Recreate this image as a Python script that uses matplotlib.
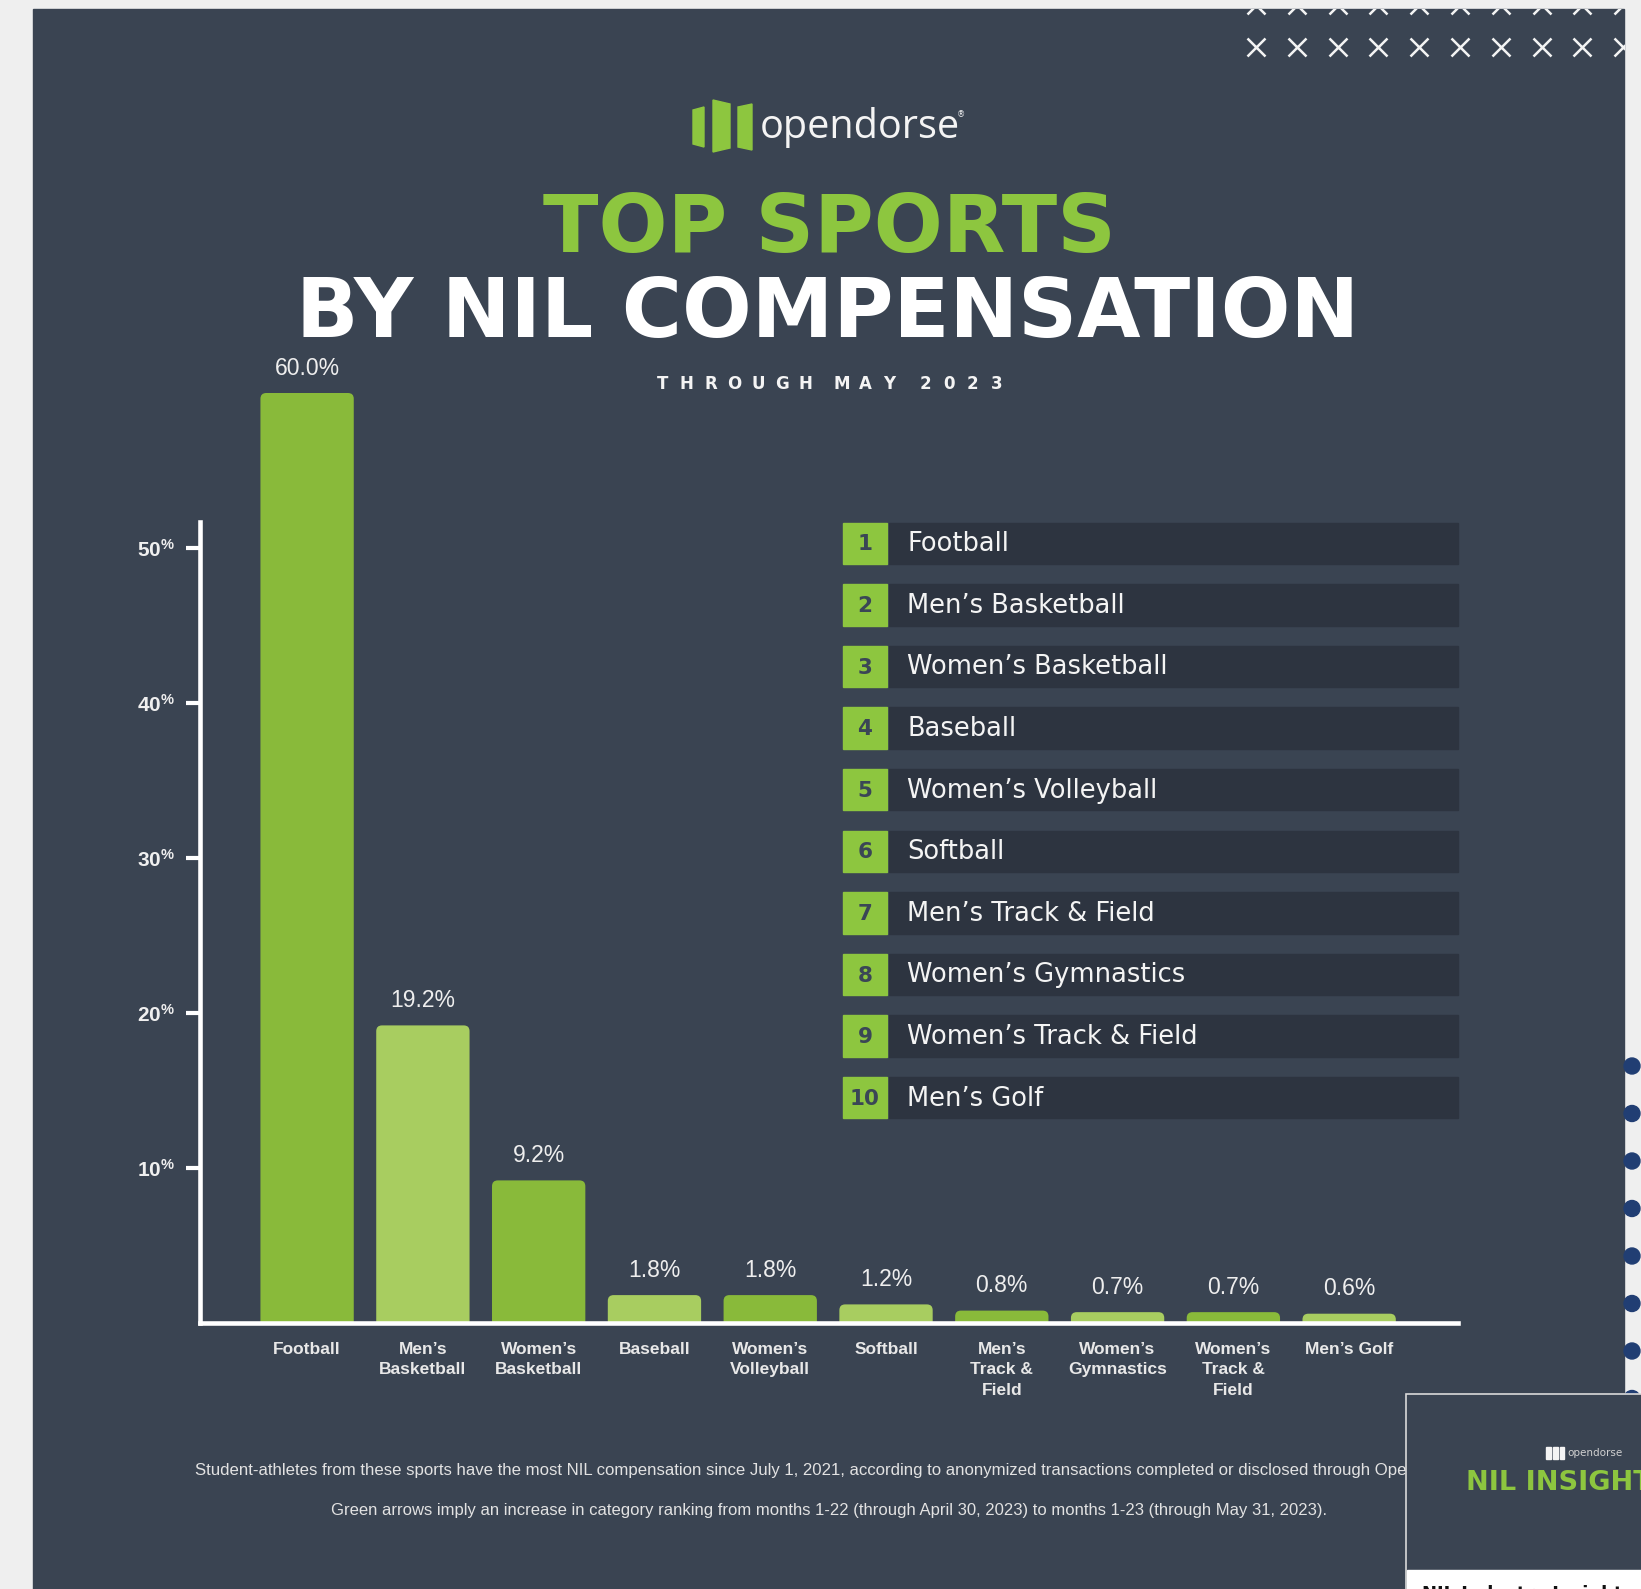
import matplotlib
matplotlib.use('Agg')
import matplotlib.pyplot as plt
from matplotlib.patches import Rectangle, Polygon, Circle, FancyBboxPatch

W, H = 1641, 1589

sports = ['Football', 'Men’s Basketball', 'Women’s Basketball', 'Baseball',
          'Women’s Volleyball', 'Softball', 'Men’s Track & Field',
          'Women’s Gymnastics', 'Women’s Track & Field', 'Men’s Golf']
bar_labels = ['Football', 'Men’s\nBasketball', 'Women’s\nBasketball', 'Baseball',
              'Women’s\nVolleyball', 'Softball', 'Men’s\nTrack &\nField',
              'Women’s\nGymnastics', 'Women’s\nTrack &\nField', 'Men’s Golf']
share = [60.0, 19.2, 9.2, 1.8, 1.8, 1.2, 0.8, 0.7, 0.7, 0.6]
yticks = [10, 20, 30, 40, 50]

footnote1 = ('Student-athletes from these sports have the most NIL compensation since July 1, 2021, '
             'according to anonymized transactions completed or disclosed through Opendorse.')
footnote2 = ('Green arrows imply an increase in category ranking from months 1-22 '
             '(through April 30, 2023) to months 1-23 (through May 31, 2023).')

PANEL = '#3a4452'
ROW = '#2d3440'
GREEN = '#8dc63f'
BAR_DARK = '#89ba3a'
BAR_LIGHT = '#a8cd60'
WHITE = '#f4f4f4'

plt.rcParams['mathtext.default'] = 'regular'

fig = plt.figure(figsize=(W / 100, H / 100), dpi=100, facecolor='#efefef')

# background layer in pixel coordinates
bg = fig.add_axes([0, 0, 1, 1])
bg.set_xlim(0, W)
bg.set_ylim(H, 0)
bg.axis('off')

panel = Rectangle((33, 9), 1624 - 33, H, color=PANEL, zorder=0)
bg.add_patch(panel)

# x marks top right
for yy in [5, 47]:
    xs = [1256 + 40.8 * i for i in range(10)]
    ln, = bg.plot(xs, [yy] * len(xs), ls='none', marker='x', ms=13, mew=1.8, color=WHITE, zorder=1)
    ln.set_clip_path(panel)

# blue dots on the right strip
for i in range(8):
    bg.add_patch(Circle((1632, 1066 + 47.5 * i), 8, color='#213e73', zorder=1))

# logo
bg.add_patch(Polygon([(693, 110), (704, 107), (704, 147), (693, 144)], color=GREEN, zorder=2))
bg.add_patch(Polygon([(713, 100), (730, 104), (730, 148), (713, 152)], color=GREEN, zorder=2))
bg.add_patch(Polygon([(738, 107), (752, 104), (752, 150), (738, 147)], color=GREEN, zorder=2))
bg.text(760, 128, 'opendorse', fontsize=28.5, family='Open Sans',
        color=WHITE, ha='left', va='center', zorder=2)
bg.text(961, 115, '®', fontsize=6, color=WHITE, ha='center', va='center')

# titles
bg.text(829, 252, 'TOP SPORTS', fontsize=58.5, fontweight='bold', family='DejaVu Sans',
        color=GREEN, ha='center', va='baseline')
bg.text(828, 337, 'BY NIL COMPENSATION', fontsize=59, fontweight='bold', family='DejaVu Sans',
        color='white', ha='center', va='baseline')

sub = ['THROUGH', 'MAY', '2023']
x0 = 663
step, gap = 23.8, 12
k = 0
for w, word in enumerate(sub):
    for ch in word:
        bg.text(x0 + k * step + w * gap, 389, ch, fontsize=12, fontweight='bold',
                color=WHITE, ha='center', va='baseline')
        k += 1

# ranking list
for i, name in enumerate(sports):
    yc = 543.3 + 61.6 * i
    bg.add_patch(Rectangle((842.7, yc - 20.7), 44, 41.4, color=GREEN, zorder=2))
    bg.add_patch(Rectangle((888.5, yc - 20.7), 1458 - 888.5, 41.4, color=ROW, zorder=2))
    bg.text(865, yc + 1, str(i + 1), fontsize=15.5, fontweight='bold', color='#3a4656',
            ha='center', va='center', zorder=3)
    bg.text(907, yc + 1, name, fontsize=18.5, color=WHITE, ha='left', va='center', zorder=3)

# footnotes
bg.text(829, 1471, footnote1, fontsize=12.1, family='Liberation Sans', color='#e2e2e2',
        ha='center', va='center', zorder=2)
bg.text(829, 1510, footnote2, fontsize=12.0, family='Liberation Sans', color='#e2e2e2',
        ha='center', va='center', zorder=2)

# inset card bottom right
bg.add_patch(Rectangle((1406, 1394), 260, 200, facecolor=PANEL, edgecolor='#d9d9d9', lw=1.2, zorder=5))
bg.add_patch(Rectangle((1407, 1570), 260, 30, color='white', zorder=6))
for (a, b) in [(1546, 1551), (1553, 1558), (1560, 1564)]:
    bg.add_patch(Rectangle((a, 1447), b - a, 12, color=WHITE, zorder=6))
bg.text(1567, 1453, 'opendorse', fontsize=7.5, color='#d0d0d0', ha='left', va='center', zorder=6)
bg.text(1466, 1483, 'NIL INSIGHTS', fontsize=19.5, fontweight='bold', color=GREEN,
        ha='left', va='center', zorder=6)
bg.text(1422, 1585, 'NIL Industry Insights', fontsize=13, fontweight='bold', color='#111111',
        ha='left', va='top', zorder=7)

# bar chart
ppu = 15.5          # pixels per percent
top = 62
ax = fig.add_axes([200 / W, (H - 1323) / H, (1458 - 200) / W, top * ppu / H])
ax.patch.set_visible(False)
xpos = list(range(len(share)))
colors = [BAR_DARK if i % 2 == 0 else BAR_LIGHT for i in xpos]
bars = ax.bar(xpos, share, width=0.806, color=colors, zorder=2)
ax.set_xlim(-0.925, 9.94)
ax.set_ylim(0, top)

# rounded tops: redraw each bar as a rounded box that starts below the baseline
upx = 115.8  # pixels per x unit
for b in bars:
    b.set_visible(False)
    rb = FancyBboxPatch((b.get_x(), -1), b.get_width(), b.get_height() + 1,
                        boxstyle='round,pad=0,rounding_size=0.05',
                        mutation_aspect=upx / ppu, facecolor=b.get_facecolor(),
                        edgecolor='none', zorder=2)
    ax.add_patch(rb)

for b, v in zip(bars, share):
    ax.annotate(f'{v:.1f}%', (b.get_x() + b.get_width() / 2, v), xytext=(0, 18),
                textcoords='offset points', ha='center', va='center',
                fontsize=16.5, family='Liberation Sans', color='#eeeeee')

for s in ['top', 'right']:
    ax.spines[s].set_visible(False)
for s in ['left', 'bottom']:
    ax.spines[s].set_color('white')
    ax.spines[s].set_linewidth(3.3)
    ax.spines[s].set_zorder(3)
ax.spines['left'].set_bounds(0, 51.7)

ax.set_yticks(yticks, [f'{t}$^{{\\%}}$' for t in yticks])
ax.tick_params(axis='y', length=10, width=3, color='white', pad=8, labelsize=15,
               labelcolor='#f0f0f0')
for lab in ax.get_yticklabels():
    lab.set_family('Liberation Sans')
    lab.set_fontweight('bold')

ax.set_xticks(xpos, bar_labels)
ax.tick_params(axis='x', length=0, pad=14, labelsize=12.5, labelcolor='#e8e8e8')
for lab in ax.get_xticklabels():
    lab.set_family('Liberation Sans')
    lab.set_fontweight('bold')
    lab.set_linespacing(1.42)

fig.savefig('out.png', dpi=100, facecolor=fig.get_facecolor())
